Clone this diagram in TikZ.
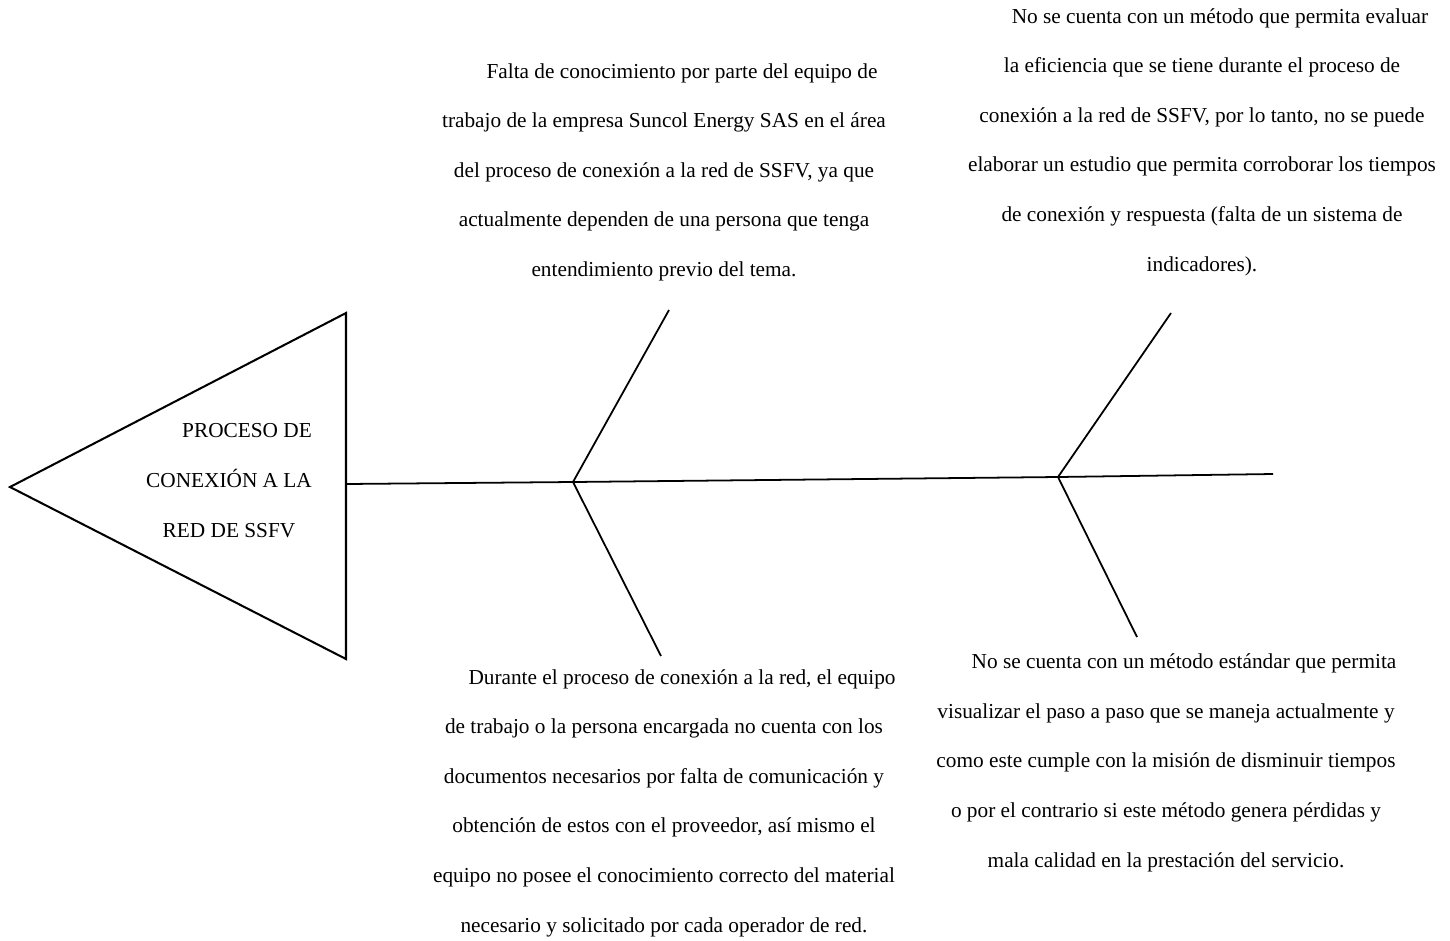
\documentclass[tikz,border=0pt]{standalone}
\usepackage{fontspec}
\setmainfont{Liberation Serif}
\tikzset{
  cause/.style={align=center, inner sep=0pt, anchor=base, font=\fontsize{12pt}{27.9pt}\selectfont},
  bone/.style={line width=1pt},
  headline/.style={line width=1.15pt}
}
\newcommand{\firstind}{\hspace*{20.3pt}}

\begin{document}
\begin{tikzpicture}[x=0.5634pt, y=-0.5634pt]
\useasboundingbox (0,0) rectangle (1450,940);

% head
\coordinate (tip) at (10,487);
\coordinate (htop) at (346,313);
\coordinate (hbot) at (346,659);
\draw[headline] (tip) -- (htop) -- (hbot) -- cycle;
\node[cause] (head) at (229,537) {\firstind PROCESO DE\\CONEXIÓN A LA\\RED DE SSFV};

% spine
\coordinate (s0) at (346,484);
\coordinate (j1) at (573,482);
\coordinate (j2) at (1058,477);
\coordinate (s1) at (1273,474);
\draw[bone] (s0) -- (j1) -- (j2) -- (s1);

% bone ends
\coordinate (j1a) at (669,310);
\coordinate (j1b) at (661,656);
\coordinate (j2a) at (1171,313);
\coordinate (j2b) at (1137,637);
\draw[bone] (j1) -- (j1a);
\draw[bone] (j1) -- (j1b);
\draw[bone] (j2) -- (j2a);
\draw[bone] (j2) -- (j2b);

% causes (placed at the baseline of the last line)
\node[cause] (c1) at (664,276.5) {\firstind Falta de conocimiento por parte del equipo de\\
trabajo de la empresa Suncol Energy SAS en el área\\
del proceso de conexión a la red de SSFV, ya que\\
actualmente dependen de una persona que tenga\\
entendimiento previo del tema.};
\node[cause] (c2) at (1202,271) {\firstind No se cuenta con un método que permita evaluar\\
la eficiencia que se tiene durante el proceso de\\
conexión a la red de SSFV, por lo tanto, no se puede\\
elaborar un estudio que permita corroborar los tiempos\\
de conexión y respuesta (falta de un sistema de\\
indicadores).};
\node[cause] (c3) at (664,932) {\firstind Durante el proceso de conexión a la red, el equipo\\
de trabajo o la persona encargada no cuenta con los\\
documentos necesarios por falta de comunicación y\\
obtención de estos con el proveedor, así mismo el\\
equipo no posee el conocimiento correcto del material\\
necesario y solicitado por cada operador de red.};
\node[cause] (c4) at (1166,867) {\firstind No se cuenta con un método estándar que permita\\
visualizar el paso a paso que se maneja actualmente y\\
como este cumple con la misión de disminuir tiempos\\
o por el contrario si este método genera pérdidas y\\
mala calidad en la prestación del servicio.};
\end{tikzpicture}
\end{document}
